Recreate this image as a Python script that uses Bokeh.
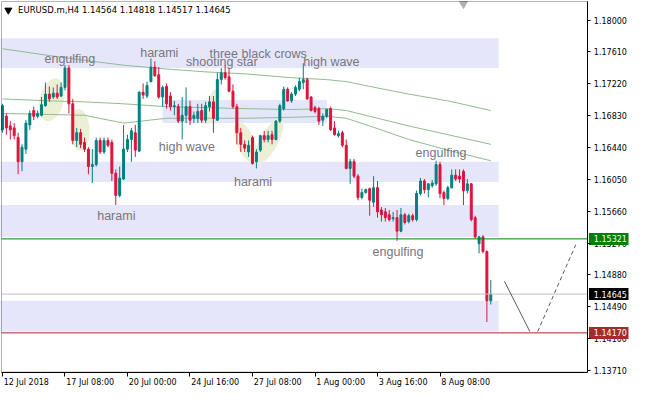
from bokeh.plotting import figure
from bokeh.models import (Range1d, FixedTicker, CustomJSTickFormatter, LinearAxis,
                          BoxAnnotation, ColumnDataSource)
from bokeh.embed import file_html
from bokeh.resources import INLINE
from bokeh.core.properties import value

# ---------------- data ----------------
header_text = "EURUSD.m,H4  1.14564 1.14818 1.14517 1.14645"

# H4 bars, index 0 = 12 Jul 2018 16:00
opens = [1.16656, 1.16822, 1.16704, 1.16680, 1.16562, 1.16266, 1.16420, 1.16716, 1.16893, 1.16822,
         1.16834, 1.16952, 1.17094, 1.17058, 1.17105, 1.17070, 1.17176, 1.17413, 1.16975, 1.16526,
         1.16621, 1.16503, 1.16420, 1.16207, 1.16231, 1.16526, 1.16385, 1.16526, 1.16503, 1.16125,
         1.15853, 1.16054, 1.16420, 1.16538, 1.16621, 1.16396, 1.17117, 1.17070, 1.17247, 1.17425,
         1.17330, 1.17058, 1.17188, 1.17070, 1.16940, 1.16940, 1.16763, 1.16834, 1.16940, 1.16798,
         1.16798, 1.16893, 1.16775, 1.16940, 1.16999, 1.16775, 1.17271, 1.17354, 1.17306, 1.17129,
         1.16940, 1.16621, 1.16479, 1.16385, 1.16562, 1.16266, 1.16408, 1.16585, 1.16538, 1.16597,
         1.16538, 1.16763, 1.16916, 1.17153, 1.17011, 1.17094, 1.17153, 1.17236, 1.17271, 1.17058,
         1.16928, 1.16916, 1.16775, 1.16822, 1.16916, 1.16680, 1.16585, 1.16621, 1.16467, 1.16184,
         1.16266, 1.16089, 1.15829, 1.15888, 1.15936, 1.15770, 1.15948, 1.15675, 1.15652, 1.15616,
         1.15569, 1.15581, 1.15415, 1.15616, 1.15534, 1.15605, 1.15557, 1.15876, 1.16030, 1.15924,
         1.15971, 1.15995, 1.16231, 1.15888, 1.15817, 1.15948, 1.16101, 1.16089, 1.16148, 1.15912,
         1.15995, 1.15581, 1.15262, 1.15345, 1.15167, 1.14564]
highs = [1.16975, 1.16857, 1.16763, 1.16739, 1.16621, 1.16479, 1.16775, 1.16893, 1.16940, 1.16893,
         1.17058, 1.17236, 1.17188, 1.17176, 1.17212, 1.17236, 1.17448, 1.17448, 1.17035, 1.16680,
         1.16668, 1.16562, 1.16444, 1.16420, 1.16562, 1.16562, 1.16562, 1.16562, 1.16538, 1.16172,
         1.16207, 1.16716, 1.16597, 1.16680, 1.16716, 1.17129, 1.17224, 1.17247, 1.17531, 1.17495,
         1.17425, 1.17200, 1.17224, 1.17117, 1.17011, 1.16975, 1.17058, 1.17176, 1.17011, 1.16881,
         1.16975, 1.16975, 1.16999, 1.17070, 1.17070, 1.17354, 1.17413, 1.17448, 1.17413, 1.17212,
         1.16975, 1.16680, 1.16526, 1.16526, 1.16585, 1.16420, 1.16597, 1.16645, 1.16645, 1.16645,
         1.16775, 1.16975, 1.17188, 1.17176, 1.17117, 1.17200, 1.17295, 1.17472, 1.17295, 1.17070,
         1.16952, 1.16940, 1.16857, 1.16916, 1.16940, 1.16763, 1.16645, 1.16645, 1.16538, 1.16302,
         1.16302, 1.16113, 1.15936, 1.15936, 1.15948, 1.16089, 1.16030, 1.15711, 1.15699, 1.15675,
         1.15652, 1.15675, 1.15699, 1.15640, 1.15628, 1.15628, 1.15912, 1.16066, 1.16054, 1.16006,
         1.16042, 1.16278, 1.16266, 1.15912, 1.15971, 1.16172, 1.16172, 1.16172, 1.16172, 1.16054,
         1.16006, 1.15605, 1.15357, 1.15368, 1.15179, 1.14818]
lows = [1.16621, 1.16597, 1.16538, 1.16538, 1.16113, 1.16148, 1.16361, 1.16656, 1.16775, 1.16798,
        1.16822, 1.16940, 1.16999, 1.17035, 1.17035, 1.17058, 1.17141, 1.16857, 1.16479, 1.16444,
        1.16432, 1.16385, 1.16113, 1.16006, 1.16207, 1.16361, 1.16361, 1.16444, 1.16030, 1.15735,
        1.15829, 1.16042, 1.16385, 1.16266, 1.16325, 1.16385, 1.17035, 1.17046, 1.17236, 1.17306,
        1.17035, 1.16940, 1.16916, 1.16893, 1.16834, 1.16739, 1.16538, 1.16739, 1.16716, 1.16739,
        1.16739, 1.16739, 1.16739, 1.16881, 1.16621, 1.16763, 1.17212, 1.17271, 1.17117, 1.16916,
        1.16479, 1.16385, 1.16385, 1.16325, 1.16231, 1.16184, 1.16385, 1.16503, 1.16503, 1.16479,
        1.16526, 1.16739, 1.16893, 1.16999, 1.16987, 1.17070, 1.17129, 1.17153, 1.17023, 1.16881,
        1.16857, 1.16716, 1.16704, 1.16798, 1.16645, 1.16585, 1.16562, 1.16444, 1.16172, 1.15995,
        1.16066, 1.15794, 1.15805, 1.15876, 1.15605, 1.15711, 1.15581, 1.15534, 1.15534, 1.15534,
        1.15534, 1.15297, 1.15403, 1.15498, 1.15510, 1.15534, 1.15534, 1.15853, 1.15876, 1.15829,
        1.15948, 1.15971, 1.15817, 1.15735, 1.15794, 1.15936, 1.16030, 1.16006, 1.15735, 1.15876,
        1.15534, 1.15321, 1.15144, 1.15144, 1.14304, 1.14517]
closes = [1.16952, 1.16680, 1.16656, 1.16585, 1.16266, 1.16444, 1.16739, 1.16857, 1.16822, 1.16857,
          1.16964, 1.17094, 1.17035, 1.17105, 1.17058, 1.17176, 1.17413, 1.16975, 1.16526, 1.16621,
          1.16479, 1.16420, 1.16207, 1.16231, 1.16526, 1.16385, 1.16526, 1.16467, 1.16125, 1.15853,
          1.16066, 1.16420, 1.16538, 1.16645, 1.16408, 1.17117, 1.17082, 1.17200, 1.17425, 1.17318,
          1.17058, 1.17176, 1.16975, 1.16940, 1.16952, 1.16763, 1.16834, 1.16940, 1.16775, 1.16834,
          1.16881, 1.16775, 1.16952, 1.16999, 1.16798, 1.17271, 1.17354, 1.17295, 1.17129, 1.16940,
          1.16621, 1.16479, 1.16432, 1.16467, 1.16243, 1.16385, 1.16585, 1.16538, 1.16585, 1.16538,
          1.16763, 1.16952, 1.17153, 1.17011, 1.17094, 1.17176, 1.17247, 1.17271, 1.17035, 1.16893,
          1.16881, 1.16763, 1.16822, 1.16905, 1.16656, 1.16597, 1.16609, 1.16467, 1.16184, 1.16266,
          1.16089, 1.15829, 1.15888, 1.15924, 1.15794, 1.15948, 1.15652, 1.15616, 1.15581, 1.15557,
          1.15581, 1.15415, 1.15616, 1.15522, 1.15605, 1.15557, 1.15876, 1.16030, 1.15924, 1.15995,
          1.16006, 1.16231, 1.15876, 1.15817, 1.15948, 1.16101, 1.16054, 1.16054, 1.15912, 1.15995,
          1.15557, 1.15345, 1.15345, 1.15167, 1.14564, 1.14645]

time_tick_bars = [0, 16, 32, 48, 64, 80, 96, 112]
time_tick_labels = ["12 Jul 2018", "17 Jul 08:00", "20 Jul 00:00", "24 Jul 16:00",
                    "27 Jul 08:00", "1 Aug 00:00", "3 Aug 16:00", "8 Aug 08:00"]
price_ticks = [1.18000, 1.17610, 1.17220, 1.16830, 1.16440, 1.16050,
               1.15660, 1.15270, 1.14880, 1.14490, 1.14100, 1.13710]

# moving averages (read at selected bars)
ma_bars = [0, 12, 21, 31, 42, 52, 62, 74, 83, 88, 94, 104, 114, 125]
ma_slow = [1.17649, 1.17566, 1.17507, 1.17448, 1.17401, 1.17366, 1.17342, 1.17295, 1.17271, 1.17247,
           1.17188, 1.17094, 1.17011, 1.16893]
ma_mid = [1.17035, 1.17011, 1.16999, 1.16975, 1.16940, 1.16928, 1.16916, 1.16905, 1.16916, 1.16893,
          1.16822, 1.16704, 1.16597, 1.16479]
ma_fast = [1.16857, 1.16845, 1.16834, 1.16739, 1.16798, 1.16798, 1.16798, 1.16810, 1.16822, 1.16798,
           1.16704, 1.16538, 1.16408, 1.16278]

# zones (rectangles)
zone_left = [-1, 41, -1, -1, -1]
zone_right = [127, 83, 127, 127, 127]
zone_top = [1.17779, 1.17023, 1.16266, 1.15735, 1.14565]
zone_bottom = [1.17413, 1.16739, 1.16018, 1.15345, 1.14186]

# highlighted candle groups (ellipses)
oval_bar = [12.6, 19.75, 53.5, 62.25, 68.25]
oval_price = [1.17023, 1.16656, 1.16940, 1.16503, 1.16515]

# pattern labels
pattern_text = ["engulfing", "harami", "three black crows", "shooting star", "high wave",
                "high wave", "harami", "harami", "engulfing", "engulfing"]
pattern_bar = [10.75, 35.25, 53.0, 47.0, 77.0, 40.0, 59.25, 24.25, 105.75, 94.75]
pattern_price = [1.17525, 1.17602, 1.17590, 1.17484, 1.17484,
                 1.16444, 1.16018, 1.15605, 1.16373, 1.15161]

# horizontal levels
level_prices = [1.15321, 1.14645, 1.14170]
level_text = ["1.15321", "1.14645", "1.14170"]

# projected path
path_solid_bar = [128.5, 135.0]
path_solid_price = [1.14801, 1.14186]
path_dash_bar = [137.0, 146.75]
path_dash_price = [1.14186, 1.15250]

# ---------------- layout constants ----------------
FH = 388                           # frame height in px
X0, X1 = -0.506, 160.25            # visible bar range
Y0, Y1 = 1.13489, 1.18240          # visible price range
CH_L, CH_R = -0.25, 149.75         # chart box (bars)
CH_B, CH_T = 1.13690, 1.18228      # chart box (prices)
PX_Y = (Y1 - Y0) / FH              # price per pixel
LAB_X = 151.375                    # price label column
TAG_L, TAG_R = 150.125, 161.0
TIME_Y = 1.13566

p = figure(width=631, height=393, x_range=Range1d(X0, X1), y_range=Range1d(Y0, Y1),
           x_axis_location=None, y_axis_location=None,
           output_backend="svg", toolbar_location=None,
           min_border_left=0, min_border_top=0, min_border_right=3, min_border_bottom=5)
p.grid.visible = False
p.outline_line_color = None
p.background_fill_color = "white"
p.border_fill_color = "white"

xa = LinearAxis(ticker=FixedTicker(ticks=time_tick_bars),
                formatter=CustomJSTickFormatter(code="return '';"),
                fixed_location=CH_B, bounds=(CH_L, CH_R),
                major_tick_out=4, major_tick_in=0, minor_tick_out=0, minor_tick_in=0,
                major_label_standoff=0, major_label_text_font_size="0px",
                axis_line_color="black", major_tick_line_color="black")
p.add_layout(xa, "below")
ya = LinearAxis(ticker=FixedTicker(ticks=price_ticks),
                formatter=CustomJSTickFormatter(code="return '';"),
                fixed_location=CH_R, bounds=(CH_B, CH_T),
                major_tick_out=3, major_tick_in=0, minor_tick_out=0, minor_tick_in=0,
                major_label_standoff=0, major_label_text_font_size="0px",
                axis_line_color="black", major_tick_line_color="black")
p.add_layout(ya, "right")

# zones
p.quad(left=zone_left, right=zone_right, top=zone_top, bottom=zone_bottom,
       fill_color="#E6E6FA", line_color=None)

# ellipses
p.ellipse(x=oval_bar, y=oval_price, width=[24, 20, 12, 18, 18], height=[44, 42, 36, 44, 50],
          angle=[-0.25, 0.05, -0.3, 0.4, -0.5], width_units="screen", height_units="screen",
          fill_color="#EBF0D5", line_color=None)

# moving averages
for ma in (ma_slow, ma_mid, ma_fast):
    p.line(ma_bars, ma, line_color="#8FBC8F", line_width=1)

# pattern labels
p.text(x=pattern_bar, y=pattern_price, text=pattern_text, text_font=value("Liberation Sans"),
       text_font_size="12.5px", text_color="#76767F", text_align="left", text_baseline="middle")

# candles
idx = list(range(len(opens)))
colors = ["#008080" if c >= o else "#DC143C" for o, c in zip(opens, closes)]
src = ColumnDataSource(dict(x=idx, h=highs, l=lows,
                            top=[max(o, c) for o, c in zip(opens, closes)],
                            bottom=[min(o, c) for o, c in zip(opens, closes)],
                            color=colors))
p.segment(x0="x", y0="h", x1="x", y1="l", line_color="color", line_width=1, source=src)
p.vbar(x="x", width=0.5, top="top", bottom="bottom", fill_color="color", line_color="color",
       line_width=1, source=src)

# levels
level_colors = ["#008000", "#C0C0C0", "#A52A2A"]
p.segment(x0=[CH_L] * 3, x1=[CH_R] * 3, y0=level_prices, y1=level_prices,
          line_color=level_colors, line_width=1)

# projection
p.line(path_solid_bar, path_solid_price, line_color="#5A5A5A", line_width=1)
p.line(path_dash_bar, path_dash_price, line_color="#5A5A5A", line_width=1, line_dash="4 3")

# markers
p.scatter([1.5], [1.18122], marker="inverted_triangle", size=7, fill_color="black", line_color="black")
p.scatter([118.0], [1.18199], marker="inverted_triangle", size=8, fill_color="#B0B0B0", line_color="#B0B0B0")

# header
p.text(x=[4.0], y=[1.18122], text=[header_text], text_font=value("DejaVu Sans"),
       text_font_size="8.5px", text_color="black", text_align="left", text_baseline="middle")

# price axis labels
p.text(x=[LAB_X] * len(price_ticks), y=price_ticks, text=["%.5f" % v for v in price_ticks],
       text_font=value("DejaVu Sans"), text_font_size="8px", text_color="black",
       text_align="left", text_baseline="middle")

# time axis labels
p.text(x=[b + 0.3 for b in time_tick_bars], y=[TIME_Y] * len(time_tick_bars), text=time_tick_labels,
       text_font=value("DejaVu Sans"), text_font_size="8px", text_color="black",
       text_align="left", text_baseline="middle")

# level tags on the price axis
p.quad(left=[TAG_L] * 3, right=[TAG_R] * 3,
       bottom=[lv - 6 * PX_Y for lv in level_prices], top=[lv + 6 * PX_Y for lv in level_prices],
       fill_color=["#008000", "#000000", "#A52A2A"], line_color=None)
p.text(x=[LAB_X] * 3, y=level_prices, text=level_text, text_font=value("DejaVu Sans"),
       text_font_size="8px", text_color="white", text_align="left", text_baseline="middle")

# chart frame
p.add_layout(BoxAnnotation(left=CH_L, right=CH_R, bottom=CH_B, top=CH_T,
                           fill_color=None, line_color="black", line_width=1))

open("out.html", "w").write(file_html(p, INLINE))
